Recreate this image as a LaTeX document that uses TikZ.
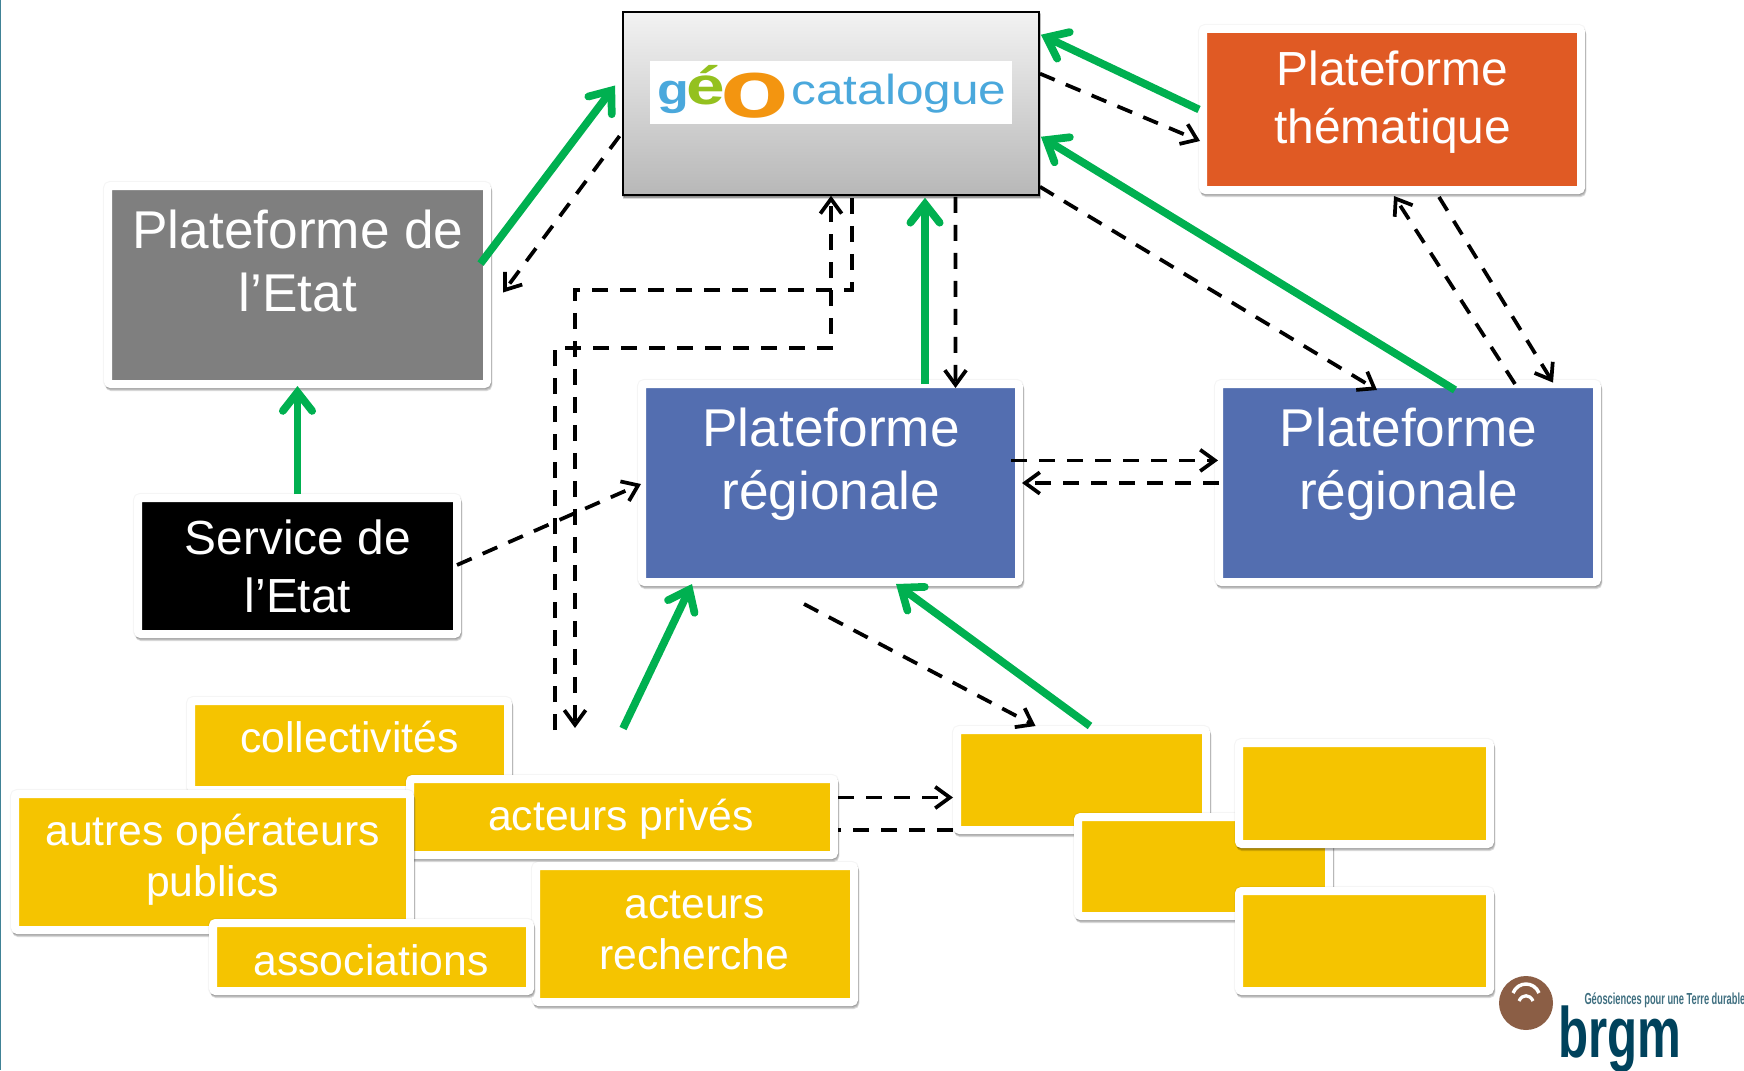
\documentclass[tikz,border=0pt]{standalone}
\usepackage{fontspec}
\setmainfont{Liberation Sans}
\usetikzlibrary{arrows.meta}

\definecolor{etatgray}{RGB}{127,127,127}
\definecolor{themorange}{RGB}{224,90,36}
\definecolor{regblue}{RGB}{83,110,176}
\definecolor{actyellow}{RGB}{245,196,0}
\definecolor{flowgreen}{RGB}{0,176,80}
\definecolor{geoblue}{RGB}{74,168,220}
\definecolor{geogreen}{RGB}{148,193,31}
\definecolor{geoorange}{RGB}{243,149,16}
\definecolor{brgmbrown}{RGB}{139,94,69}
\definecolor{brgmteal}{RGB}{0,66,92}
\definecolor{brgmgray}{RGB}{63,111,128}
\definecolor{edgeteal}{RGB}{64,130,150}

\tikzset{every picture/.style={line width=0.75pt}}
\tikzset{
  softshade/.style={
    preaction={draw=black,fill=black,opacity=0.10,transform canvas={xshift=0.3pt,yshift=-0.8pt}},
    preaction={draw=black,fill=black,opacity=0.14,transform canvas={xshift=0.7pt,yshift=-1.6pt}},
    preaction={draw=black,fill=black,opacity=0.14,transform canvas={xshift=1pt,yshift=-2.4pt}}},
  plate/.style 2 args={rectangle,draw=white,line width=6pt,rounded corners=2pt,inner sep=0pt,
    minimum width={(#1+8)*0.75pt},minimum height={(#2+8)*0.75pt},
    preaction={draw=black,fill=black,opacity=0.04,line width=7.6pt},softshade},
  platetext/.style={text=white,align=center,inner sep=0pt},
  bigtext/.style={platetext,font=\fontsize{39.9}{47.5}\selectfont},
  midtext/.style={platetext,font=\fontsize{35.9}{43.4}\selectfont},
  smalltext/.style={platetext,font=\fontsize{32}{38.4}\selectfont},
  flowarrow/.style={draw=flowgreen,line width=5.8pt,-{Straight Barb[length=14pt,width=22pt,line cap=round]}},
  linkplain/.style={draw=black,line width=2.8pt,dash pattern={on 12pt off 9pt}},
  linkarrow/.style={linkplain,-{Straight Barb[length=11pt,width=16pt]}},
  logotext/.style={anchor=base west,inner sep=0pt}
}

\begin{document}
\begin{tikzpicture}[x=0.75pt,y=0.75pt,yscale=-1,xscale=1]
\useasboundingbox (0,0) rectangle (1744,1070);

%left edge of the slide
\draw [draw=edgeteal,line width=1.5pt] (0,0) -- (0,1070);

%catalogue box with its logo
\node (geo) [rectangle,draw=black,line width=1.4pt,top color=black!5,bottom color=black!28,
  minimum width=312pt,minimum height=137pt,inner sep=0pt,softshade] at (831,103.5) {};
\node (geologo) [rectangle,fill=white,minimum width=271.5pt,minimum height=47pt,inner sep=0pt] at (831,92.5) {};
\node (geog) [logotext,text=geoblue] at (656.5,105) {\scalebox{1.2}[1]{\fontsize{32.5}{32.5}\selectfont\bfseries g}};
\node (geoe) [logotext,text=geogreen] at (686,105) {\scalebox{1.3}[1]{\fontsize{40}{40}\selectfont\bfseries é}};
\node (geoo) [logotext,text=geoorange] at (720,118) {\scalebox{1.36}[1]{\fontsize{62}{62}\selectfont\bfseries o}};
\node (geocat) [logotext,text=geoblue] at (791,105) {\scalebox{1.18}[1]{\fontsize{31.5}{31.5}\selectfont catalogue}};

%platforms
\node (etat) [plate={371}{190},fill=etatgray] at (297.5,285) {};
\node (them) [plate={370}{153},fill=themorange] at (1392,109.5) {};
\node (serv) [plate={311}{128},fill=black] at (297.5,566) {};
\node (rega) [plate={369}{190},fill=regblue] at (830.5,483) {};
\node (regb) [plate={370}{190},fill=regblue] at (1408,483) {};

%actors on the left
\node (coll) [plate={309}{81},fill=actyellow] at (349.5,745.5) {};
\node (prive) [plate={416}{68},fill=actyellow] at (622,817) {};
\node (autre) [plate={387}{128},fill=actyellow] at (212.5,862) {};
\node (rech) [plate={310}{128},fill=actyellow] at (695,934) {};
\node (asso) [plate={309}{60},fill=actyellow] at (371.5,957) {};

%empty boxes on the right
\node (boxa) [plate={241}{92},fill=actyellow] at (1081.5,780) {};
\node (boxb) [plate={243}{91},fill=actyellow] at (1203.5,866.5) {};
\node (boxc) [plate={243}{93},fill=actyellow] at (1364.5,793.5) {};
\node (boxd) [plate={243}{92},fill=actyellow] at (1364.5,941) {};

% Text Node
\node (etattext) [bigtext] at (298,261) {Plateforme de\\l’Etat};
% Text Node
\node (themtext) [midtext] at (1392.5,102.5) {Plateforme\\thématique};
% Text Node
\node (servtext) [midtext] at (298,566.5) {Service de\\l’Etat};
% Text Node
\node (regatext) [bigtext] at (831,464.5) {Plateforme\\régionale};
% Text Node
\node (regbtext) [bigtext] at (1408.5,464.5) {Plateforme\\régionale};
% Text Node
\node (colltext) [smalltext] at (349.5,737) {collectivités};
% Text Node
\node (privetext) [smalltext] at (621,819) {acteurs privés};
% Text Node
\node (autretext) [smalltext] at (212.5,860) {autres opérateurs\\publics};
% Text Node
\node (rechtext) [smalltext] at (694.5,930.5) {acteurs\\recherche};
% Text Node
\node (assotext) [smalltext] at (371,960) {associations};

%free ends of the two long links
\coordinate (freea) at (575,728);
\coordinate (freeb) at (555,730);

%green flows
\draw [flowarrow] ([shift={(-10.5,-21.4)}]etat.east) -- ([shift={(-7,-18)}]geo.west);
\draw [flowarrow] (serv.north) -- ([shift={(0,-2)}]etat.south);
\draw [flowarrow] ([shift={(94.5,4)}]rega.north) -- ([shift={(94,2)}]geo.south);
\draw [flowarrow] (them.west) -- ([shift={(1,23.5)}]geo.north east);
\draw [flowarrow] ([shift={(47,10)}]regb.north) -- ([shift={(1,-59)}]geo.south east);
\draw [flowarrow] ([shift={(1,-46.5)}]prive.north) -- ([shift={(54,-2)}]rega.south west);
\draw [flowarrow] ([shift={(8.5,0)}]boxa.north) -- ([shift={(65.5,-2)}]rega.south);

%dashed links
\draw [linkarrow] ([shift={(-2.5,32.5)}]geo.west) -- ([shift={(12,7.5)}]etat.east);
\draw [linkarrow] ([shift={(0,62.4)}]geo.north east) -- ([shift={(1,31.5)}]them.west);
\draw [linkarrow] ([shift={(0,-9)}]geo.south east) -- ([shift={(-31,10)}]regb.north);
\draw [linkarrow] ([shift={(47,3)}]them.south) -- ([shift={(145,2.6)}]regb.north);
\draw [linkarrow] ([shift={(107,4)}]regb.north) -- ([shift={(2,2)}]them.south);
\draw [linkarrow] ([shift={(124.4,1)}]geo.south) -- ([shift={(125,8)}]rega.north);
\draw [linkarrow] ([shift={(-12,-22.6)}]rega.east) -- ([shift={(3,-22.6)}]regb.west);
\draw [linkarrow] ([shift={(4,0)}]regb.west) -- ([shift={(-1,0)}]rega.east);
\draw [linkarrow] ([shift={(-4,-1)}]serv.east) -- ([shift={(3,1)}]rega.west);
\draw [linkarrow] ([shift={(-26.5,18)}]rega.south) -- ([shift={(-46,0)}]boxa.north);
\draw [linkarrow] ([shift={(0,-19.5)}]prive.east) -- ([shift={(0,17.5)}]boxa.west);
\draw [linkplain] ([shift={(0,49.7)}]boxa.west) -- ([shift={(0,12.7)}]prive.east);
\draw [linkarrow] ([shift={(21,2)}]geo.south) -- ++(0,92) -| (freea);
\draw [linkarrow] (freeb) -- ++(0,-382) -| (geo.south);

%brgm logo
\node (brgmball) [circle,fill=brgmbrown,minimum size=40.5pt,inner sep=0pt] at (1526,1003) {};
\draw [white,line width=2.6pt] ([shift={(-13,-10)}]brgmball.center) .. controls ([shift={(-8,-22)}]brgmball.center) and ([shift={(8,-22)}]brgmball.center) .. ([shift={(13,-10)}]brgmball.center);
\draw [white,line width=2.4pt] ([shift={(-7,-2)}]brgmball.center) .. controls ([shift={(-4,-9)}]brgmball.center) and ([shift={(4,-9)}]brgmball.center) .. ([shift={(7,-2)}]brgmball.center);
\node (brgmname) [logotext,text=brgmteal] at (1558,1057) {\scalebox{0.69}[1]{\fontsize{53.5}{53.5}\selectfont\bfseries brgm}};
\node (brgmslogan) [logotext,text=brgmgray] at (1584,1004) {\scalebox{0.58}[1]{\fontsize{12}{12}\selectfont\bfseries Géosciences pour une Terre durable}};

\end{tikzpicture}
\end{document}
